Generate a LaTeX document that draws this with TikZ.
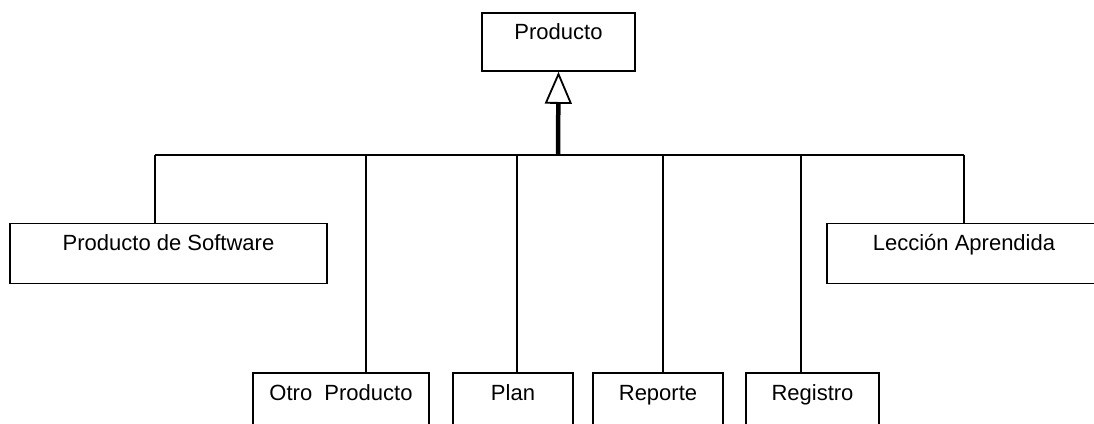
\documentclass[tikz,border=0pt]{standalone}
\usepackage{fontspec}
\setmainfont{Liberation Sans}
\usetikzlibrary{arrows.meta}

\begin{document}
\begin{tikzpicture}[x=1pt, y=-1pt, every node/.style={draw, line width=1.8pt, anchor=north, inner sep=0pt, font=\fontsize{22}{26}\selectfont}, every path/.style={line width=1.8pt}, topbox/.style={text height=27pt, text depth=33pt}, lowbox/.style={text height=28pt, text depth=32pt}]

    \useasboundingbox (0,0) rectangle (1094,423);

    \node[text height=27pt, text depth=31pt, minimum width=153pt] (prod) at (558.5,12) {Producto};

    \node[topbox, minimum width=317pt] (sw) at (168.5,222.5) {Producto de Software};
    \node[topbox, minimum width=274pt] (la) at (964,222.5) {Lecci\'on Aprendida};

    \node[lowbox, minimum width=176pt] (op) at (341,372) {Otro\ \ Producto};
    \node[lowbox, minimum width=120pt] (plan) at (513,372) {Plan};
    \node[lowbox, minimum width=130pt] (rep) at (658,372) {Reporte};
    \node[lowbox, minimum width=133pt] (reg) at (812.5,372) {Registro};

    \coordinate (hub) at (558,155);
    \coordinate (j1) at (155,155);
    \coordinate (j2) at (366,155);
    \coordinate (j3) at (517,155);
    \coordinate (j4) at (663,155);
    \coordinate (j5) at (801,155);
    \coordinate (j6) at (964,155);

    \draw[] (j1) to (j6);
    \draw[] (j1) to (j1 |- sw.north);
    \draw[] (j2) to (j2 |- op.north);
    \draw[] (j3) to (j3 |- plan.north);
    \draw[] (j4) to (j4 |- rep.north);
    \draw[] (j5) to (j5 |- reg.north);
    \draw[] (j6) to (la.north);

    \draw[line width=4.5pt, -{Triangle[open, length=32pt, width=27pt, line width=1.8pt]}] (hub) to (prod.south);

\end{tikzpicture}
\end{document}
